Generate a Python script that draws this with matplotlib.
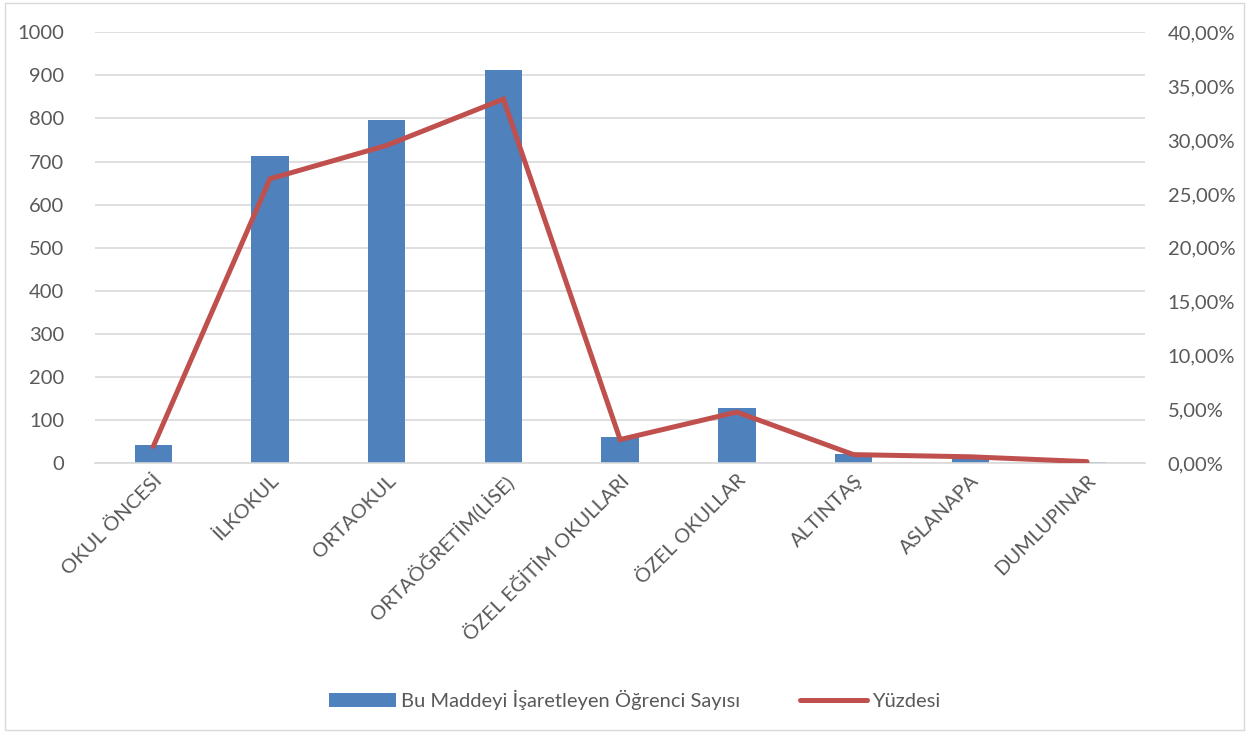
import numpy as np
import matplotlib.pyplot as plt
from matplotlib.ticker import FuncFormatter

plt.rcParams['font.family'] = ['Lato', 'DejaVu Sans']

categories = ['OKUL ÖNCESİ', 'İLKOKUL', 'ORTAOKUL', 'ORTAÖĞRETİM(LİSE)', 'ÖZEL EĞİTİM OKULLARI',
              'ÖZEL OKULLAR', 'ALTINTAŞ', 'ASLANAPA', 'DUMLUPINAR']
counts = [42, 713, 797, 913, 60, 128, 21, 16, 4]
percents = [1.56, 26.4, 29.5, 33.8, 2.2, 4.75, 0.8, 0.6, 0.15]

bar_color = '#4F81BD'
line_color = '#C0504D'
text_color = '#595959'

fig = plt.figure(figsize=(12.49, 7.33), dpi=100)
ax1 = fig.add_axes([0.076, 0.368, 0.841, 0.588])
x = np.arange(len(categories))

ax1.bar(x, counts, width=0.32, color=bar_color, zorder=2, label='Bu Maddeyi İşaretleyen Öğrenci Sayısı')
ax1.set_ylim(0, 1000)
ax1.set_yticks(range(0, 1001, 100))
ax1.set_xlim(-0.5, len(categories) - 0.5)
ax1.grid(axis='y', color='#D9D9D9', linewidth=1.2, zorder=0)
ax1.set_axisbelow(True)
for s in ['top', 'right', 'left']:
    ax1.spines[s].set_visible(False)
ax1.spines['bottom'].set_color('#D9D9D9')
ax1.spines['bottom'].set_linewidth(1.2)
ax1.tick_params(axis='both', length=0, labelsize=14.5, colors=text_color)
ax1.tick_params(axis='y', pad=22)
ax1.tick_params(axis='x', pad=6)
ax1.set_xticks(x)
ax1.set_xticklabels(categories, rotation=45, ha='right', rotation_mode='anchor')

ax2 = ax1.twinx()
ax2.plot(x, percents, color=line_color, linewidth=3.6, solid_capstyle='round',
         solid_joinstyle='miter', label='Yüzdesi', zorder=3)
ax2.set_ylim(0, 40)
ax2.set_yticks(range(0, 41, 5))
ax2.yaxis.set_major_formatter(FuncFormatter(lambda v, p: ('%.2f%%' % v).replace('.', ',')))
for s in ax2.spines.values():
    s.set_visible(False)
ax2.tick_params(axis='y', length=0, labelsize=14.5, colors=text_color, pad=16)

h1, l1 = ax1.get_legend_handles_labels()
h2, l2 = ax2.get_legend_handles_labels()
fig.legend(h1 + h2, l1 + l2, loc='center', bbox_to_anchor=(0.508, 0.045), ncol=2, frameon=False,
           fontsize=14.5, labelcolor=text_color, handlelength=3.3, handletextpad=0.25, columnspacing=3.0)

# outer frame
fig.patches.append(plt.Rectangle((0.004, 0.004), 0.992, 0.992, transform=fig.transFigure,
                                 fill=False, edgecolor='#D9D9D9', linewidth=1))

fig.savefig('out.png', dpi=100)
